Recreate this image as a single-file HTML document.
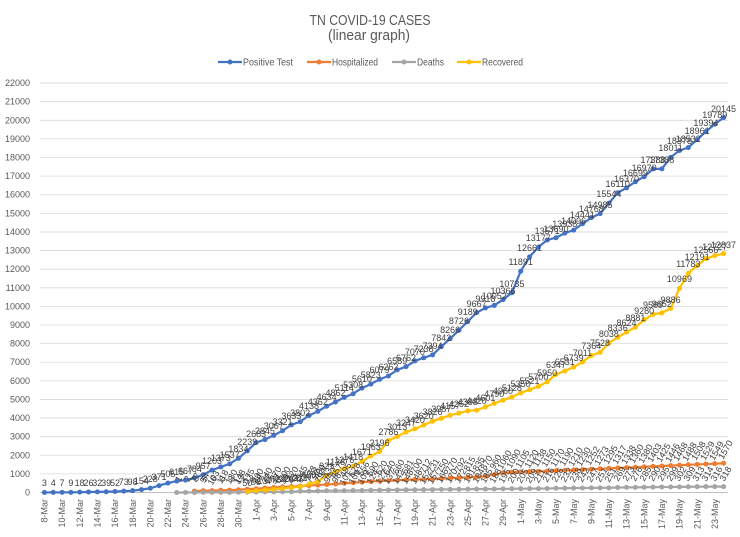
<!DOCTYPE html>
<html><head><meta charset="utf-8"><style>
html,body{margin:0;padding:0;background:#fff}
#c{position:relative;width:740px;height:537px;overflow:hidden;background:#fff;font-family:"Liberation Sans",sans-serif}
svg{position:absolute;left:0;top:0}
#lb i{position:absolute;left:calc(44.4px + 8.82px * var(--i));top:calc(492.5px - 0.01861px * var(--v));font:9px/9px "Liberation Sans",sans-serif;color:#404040;font-style:normal;white-space:nowrap;transform:translate(-50%,-100%);margin-top:-4px}
#lb .r i{transform:translate(-50%,-50%) rotate(-60deg);margin-top:-13px;margin-left:2px}
</style></head><body><div id="c">
<svg width="740" height="537" viewBox="0 0 740 537">
<g fill="#595959" font-family="Liberation Sans, sans-serif">
<text x="370" y="25" font-size="15" text-anchor="middle" textLength="121" lengthAdjust="spacingAndGlyphs">TN COVID-19 CASES</text>
<text x="369" y="40" font-size="15" text-anchor="middle" textLength="82" lengthAdjust="spacingAndGlyphs">(linear graph)</text>
<text x="243" y="65.5" font-size="10" textLength="50" lengthAdjust="spacingAndGlyphs">Positive Test</text>
<text x="332" y="65.5" font-size="10" textLength="46" lengthAdjust="spacingAndGlyphs">Hospitalized</text>
<text x="417" y="65.5" font-size="10" textLength="27" lengthAdjust="spacingAndGlyphs">Deaths</text>
<text x="482" y="65.5" font-size="10" textLength="41" lengthAdjust="spacingAndGlyphs">Recovered</text>
</g>
<g stroke-width="2.2"><line x1="218" y1="62" x2="242" y2="62" stroke="#4472C4"/><circle cx="230" cy="62" r="2.5" fill="#4472C4"/>
<line x1="307" y1="62" x2="331" y2="62" stroke="#ED7D31"/><circle cx="319" cy="62" r="2.5" fill="#ED7D31"/>
<line x1="392" y1="62" x2="416" y2="62" stroke="#A5A5A5"/><circle cx="404" cy="62" r="2.5" fill="#A5A5A5"/>
<line x1="457" y1="62" x2="481" y2="62" stroke="#FFC000"/><circle cx="469" cy="62" r="2.5" fill="#FFC000"/></g>
<g font-size="9" fill="#595959" text-anchor="end" font-family="Liberation Sans, sans-serif">
<text x="30" y="495.5">0</text><text x="30" y="476.9">1000</text><text x="30" y="458.3">2000</text><text x="30" y="439.7">3000</text><text x="30" y="421.1">4000</text><text x="30" y="402.5">5000</text><text x="30" y="383.8">6000</text><text x="30" y="365.2">7000</text><text x="30" y="346.6">8000</text><text x="30" y="328">9000</text><text x="30" y="309.4">10000</text><text x="30" y="290.8">11000</text><text x="30" y="272.2">12000</text><text x="30" y="253.6">13000</text><text x="30" y="235">14000</text><text x="30" y="216.4">15000</text><text x="30" y="197.7">16000</text><text x="30" y="179.1">17000</text><text x="30" y="160.5">18000</text><text x="30" y="141.9">19000</text><text x="30" y="123.3">20000</text><text x="30" y="104.7">21000</text><text x="30" y="86.1">22000</text>
</g>
<g font-size="9" fill="#595959" text-anchor="end" font-family="Liberation Sans, sans-serif">
<text transform="translate(47.6,499) rotate(-90)">8-Mar</text>
<text transform="translate(65.2,499) rotate(-90)">10-Mar</text>
<text transform="translate(82.9,499) rotate(-90)">12-Mar</text>
<text transform="translate(100.5,499) rotate(-90)">14-Mar</text>
<text transform="translate(118.2,499) rotate(-90)">16-Mar</text>
<text transform="translate(135.8,499) rotate(-90)">18-Mar</text>
<text transform="translate(153.4,499) rotate(-90)">20-Mar</text>
<text transform="translate(171.1,499) rotate(-90)">22-Mar</text>
<text transform="translate(188.7,499) rotate(-90)">24-Mar</text>
<text transform="translate(206.4,499) rotate(-90)">26-Mar</text>
<text transform="translate(224,499) rotate(-90)">28-Mar</text>
<text transform="translate(241.6,499) rotate(-90)">30-Mar</text>
<text transform="translate(259.3,499) rotate(-90)">1-Apr</text>
<text transform="translate(276.9,499) rotate(-90)">3-Apr</text>
<text transform="translate(294.6,499) rotate(-90)">5-Apr</text>
<text transform="translate(312.2,499) rotate(-90)">7-Apr</text>
<text transform="translate(329.8,499) rotate(-90)">9-Apr</text>
<text transform="translate(347.5,499) rotate(-90)">11-Apr</text>
<text transform="translate(365.1,499) rotate(-90)">13-Apr</text>
<text transform="translate(382.8,499) rotate(-90)">15-Apr</text>
<text transform="translate(400.4,499) rotate(-90)">17-Apr</text>
<text transform="translate(418,499) rotate(-90)">19-Apr</text>
<text transform="translate(435.7,499) rotate(-90)">21-Apr</text>
<text transform="translate(453.3,499) rotate(-90)">23-Apr</text>
<text transform="translate(471,499) rotate(-90)">25-Apr</text>
<text transform="translate(488.6,499) rotate(-90)">27-Apr</text>
<text transform="translate(506.2,499) rotate(-90)">29-Apr</text>
<text transform="translate(523.9,499) rotate(-90)">1-May</text>
<text transform="translate(541.5,499) rotate(-90)">3-May</text>
<text transform="translate(559.2,499) rotate(-90)">5-May</text>
<text transform="translate(576.8,499) rotate(-90)">7-May</text>
<text transform="translate(594.4,499) rotate(-90)">9-May</text>
<text transform="translate(612.1,499) rotate(-90)">11-May</text>
<text transform="translate(629.7,499) rotate(-90)">13-May</text>
<text transform="translate(647.4,499) rotate(-90)">15-May</text>
<text transform="translate(665,499) rotate(-90)">17-May</text>
<text transform="translate(682.6,499) rotate(-90)">19-May</text>
<text transform="translate(700.3,499) rotate(-90)">21-May</text>
<text transform="translate(717.9,499) rotate(-90)">23-May</text>
</g>
<g transform="matrix(8.82 0 0 -0.01861 44.4 492.5)" fill="none" stroke-linejoin="round">
<path vector-effect="non-scaling-stroke" stroke="#d9d9d9" stroke-width="0.8" d="M-0.5,1000H77.5M-0.5,2000H77.5M-0.5,3000H77.5M-0.5,4000H77.5M-0.5,5000H77.5M-0.5,6000H77.5M-0.5,7000H77.5M-0.5,8000H77.5M-0.5,9000H77.5M-0.5,10000H77.5M-0.5,11000H77.5M-0.5,12000H77.5M-0.5,13000H77.5M-0.5,14000H77.5M-0.5,15000H77.5M-0.5,16000H77.5M-0.5,17000H77.5M-0.5,18000H77.5M-0.5,19000H77.5M-0.5,20000H77.5M-0.5,21000H77.5M-0.5,22000H77.5"/>
<path vector-effect="non-scaling-stroke" stroke="#bfbfbf" stroke-width="1" d="M-0.5,0H77.5"/>
<polyline vector-effect="non-scaling-stroke" stroke="#4472C4" stroke-width="2.2" points="0,3 1,4 2,7 3,9 4,18 5,26 6,32 7,39 8,52 9,73 10,98 11,154 12,228 13,371 14,505 15,615 16,667 17,784 18,957 19,1203 20,1373 21,1537 22,1834 23,2239 24,2683 25,2845 26,3067 27,3321 28,3633 29,3802 30,4138 31,4362 32,4634 33,4862 34,5114 35,5308 36,5610 37,5823 38,6079 39,6262 40,6589 41,6762 42,7070 43,7238 44,7394 45,7842 46,8266 47,8726 48,9189 49,9667 50,9918 51,10052 52,10366 53,10735 54,11891 55,12661 56,13177 57,13571 58,13690 59,13938 60,14096 61,14441 62,14768 63,14985 64,15544 65,16110 66,16370 67,16699 68,16970 69,17388 70,17388 71,18011 72,18378 73,18532 74,18961 75,19394 76,19789 77,20145"/>
<path vector-effect="non-scaling-stroke" stroke="#4472C4" stroke-width="5" stroke-linecap="round" d="M0,3h.01M1,4h.01M2,7h.01M3,9h.01M4,18h.01M5,26h.01M6,32h.01M7,39h.01M8,52h.01M9,73h.01M10,98h.01M11,154h.01M12,228h.01M13,371h.01M14,505h.01M15,615h.01M16,667h.01M17,784h.01M18,957h.01M19,1203h.01M20,1373h.01M21,1537h.01M22,1834h.01M23,2239h.01M24,2683h.01M25,2845h.01M26,3067h.01M27,3321h.01M28,3633h.01M29,3802h.01M30,4138h.01M31,4362h.01M32,4634h.01M33,4862h.01M34,5114h.01M35,5308h.01M36,5610h.01M37,5823h.01M38,6079h.01M39,6262h.01M40,6589h.01M41,6762h.01M42,7070h.01M43,7238h.01M44,7394h.01M45,7842h.01M46,8266h.01M47,8726h.01M48,9189h.01M49,9667h.01M50,9918h.01M51,10052h.01M52,10366h.01M53,10735h.01M54,11891h.01M55,12661h.01M56,13177h.01M57,13571h.01M58,13690h.01M59,13938h.01M60,14096h.01M61,14441h.01M62,14768h.01M63,14985h.01M64,15544h.01M65,16110h.01M66,16370h.01M67,16699h.01M68,16970h.01M69,17388h.01M70,17388h.01M71,18011h.01M72,18378h.01M73,18532h.01M74,18961h.01M75,19394h.01M76,19789h.01M77,20145h.01"/>
<polyline vector-effect="non-scaling-stroke" stroke="#ED7D31" stroke-width="2.2" points="17,77 18,94 19,103 20,118 21,130 22,148 23,175 24,200 25,240 26,270 27,300 28,320 29,345 30,373 31,400 32,433 33,457 34,495 35,528 36,556 37,590 38,620 39,640 40,660 41,681 42,700 43,712 44,731 45,750 46,770 47,792 48,815 49,835 50,870 51,960 52,1060 53,1090 54,1105 55,1120 56,1138 57,1150 58,1170 59,1190 60,1210 61,1230 62,1252 63,1273 64,1295 65,1317 66,1338 67,1360 68,1380 69,1403 70,1425 71,1446 72,1468 73,1488 74,1508 75,1529 76,1549 77,1570"/>
<path vector-effect="non-scaling-stroke" stroke="#ED7D31" stroke-width="5" stroke-linecap="round" d="M17,77h.01M18,94h.01M19,103h.01M20,118h.01M21,130h.01M22,148h.01M23,175h.01M24,200h.01M25,240h.01M26,270h.01M27,300h.01M28,320h.01M29,345h.01M30,373h.01M31,400h.01M32,433h.01M33,457h.01M34,495h.01M35,528h.01M36,556h.01M37,590h.01M38,620h.01M39,640h.01M40,660h.01M41,681h.01M42,700h.01M43,712h.01M44,731h.01M45,750h.01M46,770h.01M47,792h.01M48,815h.01M49,835h.01M50,870h.01M51,960h.01M52,1060h.01M53,1090h.01M54,1105h.01M55,1120h.01M56,1138h.01M57,1150h.01M58,1170h.01M59,1190h.01M60,1210h.01M61,1230h.01M62,1252h.01M63,1273h.01M64,1295h.01M65,1317h.01M66,1338h.01M67,1360h.01M68,1380h.01M69,1403h.01M70,1425h.01M71,1446h.01M72,1468h.01M73,1488h.01M74,1508h.01M75,1529h.01M76,1549h.01M77,1570h.01"/>
<polyline vector-effect="non-scaling-stroke" stroke="#A5A5A5" stroke-width="2.2" points="15,1 16,2 17,3 18,5 19,6 20,6 21,8 22,13 23,23 24,24 25,32 26,37 27,39 28,43 29,65 30,72 31,79 32,94 33,98 34,101 35,109 36,109 37,124 38,127 39,137 40,142 41,148 42,148 43,152 44,157 45,166 46,170 47,172 48,181 49,184 50,185 51,188 52,195 53,200 54,205 55,209 56,211 57,216 58,226 59,232 60,238 61,242 62,247 63,251 64,251 65,269 66,273 67,276 68,285 69,290 70,295 71,299 72,302 73,309 74,313 75,314 76,316 77,318"/>
<path vector-effect="non-scaling-stroke" stroke="#A5A5A5" stroke-width="5" stroke-linecap="round" d="M15,1h.01M16,2h.01M17,3h.01M18,5h.01M19,6h.01M20,6h.01M21,8h.01M22,13h.01M23,23h.01M24,24h.01M25,32h.01M26,37h.01M27,39h.01M28,43h.01M29,65h.01M30,72h.01M31,79h.01M32,94h.01M33,98h.01M34,101h.01M35,109h.01M36,109h.01M37,124h.01M38,127h.01M39,137h.01M40,142h.01M41,148h.01M42,148h.01M43,152h.01M44,157h.01M45,166h.01M46,170h.01M47,172h.01M48,181h.01M49,184h.01M50,185h.01M51,188h.01M52,195h.01M53,200h.01M54,205h.01M55,209h.01M56,211h.01M57,216h.01M58,226h.01M59,232h.01M60,238h.01M61,242h.01M62,247h.01M63,251h.01M64,251h.01M65,269h.01M66,273h.01M67,276h.01M68,285h.01M69,290h.01M70,295h.01M71,299h.01M72,302h.01M73,309h.01M74,313h.01M75,314h.01M76,316h.01M77,318h.01"/>
<polyline vector-effect="non-scaling-stroke" stroke="#FFC000" stroke-width="2.2" points="23,50 24,98 25,137 26,176 27,220 28,264 29,312 30,450 31,592 32,921 33,1138 34,1276 35,1418 36,1671 37,1963 38,2196 39,2786 40,3013 41,3247 42,3420 43,3620 44,3826 45,3987 46,4157 47,4262 48,4388 49,4420 50,4601 51,4790 52,4960 53,5128 54,5350 55,5521 56,5700 57,5950 58,6347 59,6531 60,6739 61,7011 62,7364 63,7528 64,8038 65,8336 66,8624 67,8881 68,9280 69,9569 70,9652 71,9886 72,10969 73,11783 74,12191 75,12566 76,12727 77,12837"/>
<path vector-effect="non-scaling-stroke" stroke="#FFC000" stroke-width="5" stroke-linecap="round" d="M23,50h.01M24,98h.01M25,137h.01M26,176h.01M27,220h.01M28,264h.01M29,312h.01M30,450h.01M31,592h.01M32,921h.01M33,1138h.01M34,1276h.01M35,1418h.01M36,1671h.01M37,1963h.01M38,2196h.01M39,2786h.01M40,3013h.01M41,3247h.01M42,3420h.01M43,3620h.01M44,3826h.01M45,3987h.01M46,4157h.01M47,4262h.01M48,4388h.01M49,4420h.01M50,4601h.01M51,4790h.01M52,4960h.01M53,5128h.01M54,5350h.01M55,5521h.01M56,5700h.01M57,5950h.01M58,6347h.01M59,6531h.01M60,6739h.01M61,7011h.01M62,7364h.01M63,7528h.01M64,8038h.01M65,8336h.01M66,8624h.01M67,8881h.01M68,9280h.01M69,9569h.01M70,9652h.01M71,9886h.01M72,10969h.01M73,11783h.01M74,12191h.01M75,12566h.01M76,12727h.01M77,12837h.01"/>
</g>
</svg>
<div id="lb">
<div>
<i style="--i:0;--v:3">3</i><i style="--i:1;--v:4">4</i><i style="--i:2;--v:7">7</i><i style="--i:3;--v:9">9</i><i style="--i:4;--v:18">18</i><i style="--i:5;--v:26">26</i><i style="--i:6;--v:32">32</i><i style="--i:7;--v:39">39</i><i style="--i:8;--v:52">52</i><i style="--i:9;--v:73">73</i><i style="--i:10;--v:98">98</i><i style="--i:11;--v:154">154</i><i style="--i:12;--v:228">228</i><i style="--i:13;--v:371">371</i><i style="--i:14;--v:505">505</i><i style="--i:15;--v:615">615</i><i style="--i:16;--v:667">667</i><i style="--i:17;--v:784">784</i><i style="--i:18;--v:957">957</i><i style="--i:19;--v:1203">1203</i><i style="--i:20;--v:1373">1373</i><i style="--i:21;--v:1537">1537</i><i style="--i:22;--v:1834">1834</i><i style="--i:23;--v:2239">2239</i><i style="--i:24;--v:2683">2683</i><i style="--i:25;--v:2845">2845</i><i style="--i:26;--v:3067">3067</i><i style="--i:27;--v:3321">3321</i><i style="--i:28;--v:3633">3633</i><i style="--i:29;--v:3802">3802</i><i style="--i:30;--v:4138">4138</i><i style="--i:31;--v:4362">4362</i><i style="--i:32;--v:4634">4634</i><i style="--i:33;--v:4862">4862</i><i style="--i:34;--v:5114">5114</i><i style="--i:35;--v:5308">5308</i><i style="--i:36;--v:5610">5610</i><i style="--i:37;--v:5823">5823</i><i style="--i:38;--v:6079">6079</i><i style="--i:39;--v:6262">6262</i><i style="--i:40;--v:6589">6589</i><i style="--i:41;--v:6762">6762</i><i style="--i:42;--v:7070">7070</i><i style="--i:43;--v:7238">7238</i><i style="--i:44;--v:7394">7394</i><i style="--i:45;--v:7842">7842</i><i style="--i:46;--v:8266">8266</i><i style="--i:47;--v:8726">8726</i><i style="--i:48;--v:9189">9189</i><i style="--i:49;--v:9667">9667</i><i style="--i:50;--v:9918">9918</i><i style="--i:51;--v:10052">10052</i><i style="--i:52;--v:10366">10366</i><i style="--i:53;--v:10735">10735</i><i style="--i:54;--v:11891">11891</i><i style="--i:55;--v:12661">12661</i><i style="--i:56;--v:13177">13177</i><i style="--i:57;--v:13571">13571</i><i style="--i:58;--v:13690">13690</i><i style="--i:59;--v:13938">13938</i><i style="--i:60;--v:14096">14096</i><i style="--i:61;--v:14441">14441</i><i style="--i:62;--v:14768">14768</i><i style="--i:63;--v:14985">14985</i><i style="--i:64;--v:15544">15544</i><i style="--i:65;--v:16110">16110</i><i style="--i:66;--v:16370">16370</i><i style="--i:67;--v:16699">16699</i><i style="--i:68;--v:16970">16970</i><i style="--i:69;--v:17388">17388</i><i style="--i:70;--v:17388">17388</i><i style="--i:71;--v:18011">18011</i><i style="--i:72;--v:18378">18378</i><i style="--i:73;--v:18532">18532</i><i style="--i:74;--v:18961">18961</i><i style="--i:75;--v:19394">19394</i><i style="--i:76;--v:19789">19789</i><i style="--i:77;--v:20145">20145</i>
</div>
<div class="r">
<i style="--i:17;--v:77">77</i><i style="--i:18;--v:94">94</i><i style="--i:19;--v:103">103</i><i style="--i:20;--v:118">118</i><i style="--i:21;--v:130">130</i><i style="--i:22;--v:148">148</i><i style="--i:23;--v:175">175</i><i style="--i:24;--v:200">200</i><i style="--i:25;--v:240">240</i><i style="--i:26;--v:270">270</i><i style="--i:27;--v:300">300</i><i style="--i:28;--v:320">320</i><i style="--i:29;--v:345">345</i><i style="--i:30;--v:373">373</i><i style="--i:31;--v:400">400</i><i style="--i:32;--v:433">433</i><i style="--i:33;--v:457">457</i><i style="--i:34;--v:495">495</i><i style="--i:35;--v:528">528</i><i style="--i:36;--v:556">556</i><i style="--i:37;--v:590">590</i><i style="--i:38;--v:620">620</i><i style="--i:39;--v:640">640</i><i style="--i:40;--v:660">660</i><i style="--i:41;--v:681">681</i><i style="--i:42;--v:700">700</i><i style="--i:43;--v:712">712</i><i style="--i:44;--v:731">731</i><i style="--i:45;--v:750">750</i><i style="--i:46;--v:770">770</i><i style="--i:47;--v:792">792</i><i style="--i:48;--v:815">815</i><i style="--i:49;--v:835">835</i><i style="--i:50;--v:870">870</i><i style="--i:51;--v:960">960</i><i style="--i:52;--v:1060">1060</i><i style="--i:53;--v:1090">1090</i><i style="--i:54;--v:1105">1105</i><i style="--i:55;--v:1120">1120</i><i style="--i:56;--v:1138">1138</i><i style="--i:57;--v:1150">1150</i><i style="--i:58;--v:1170">1170</i><i style="--i:59;--v:1190">1190</i><i style="--i:60;--v:1210">1210</i><i style="--i:61;--v:1230">1230</i><i style="--i:62;--v:1252">1252</i><i style="--i:63;--v:1273">1273</i><i style="--i:64;--v:1295">1295</i><i style="--i:65;--v:1317">1317</i><i style="--i:66;--v:1338">1338</i><i style="--i:67;--v:1360">1360</i><i style="--i:68;--v:1380">1380</i><i style="--i:69;--v:1403">1403</i><i style="--i:70;--v:1425">1425</i><i style="--i:71;--v:1446">1446</i><i style="--i:72;--v:1468">1468</i><i style="--i:73;--v:1488">1488</i><i style="--i:74;--v:1508">1508</i><i style="--i:75;--v:1529">1529</i><i style="--i:76;--v:1549">1549</i><i style="--i:77;--v:1570">1570</i>
<i style="--i:15;--v:1">1</i><i style="--i:16;--v:2">2</i><i style="--i:17;--v:3">3</i><i style="--i:18;--v:5">5</i><i style="--i:19;--v:6">6</i><i style="--i:20;--v:6">6</i><i style="--i:21;--v:8">8</i><i style="--i:22;--v:13">13</i><i style="--i:23;--v:23">23</i><i style="--i:24;--v:24">24</i><i style="--i:25;--v:32">32</i><i style="--i:26;--v:37">37</i><i style="--i:27;--v:39">39</i><i style="--i:28;--v:43">43</i><i style="--i:29;--v:65">65</i><i style="--i:30;--v:72">72</i><i style="--i:31;--v:79">79</i><i style="--i:32;--v:94">94</i><i style="--i:33;--v:98">98</i><i style="--i:34;--v:101">101</i><i style="--i:35;--v:109">109</i><i style="--i:36;--v:109">109</i><i style="--i:37;--v:124">124</i><i style="--i:38;--v:127">127</i><i style="--i:39;--v:137">137</i><i style="--i:40;--v:142">142</i><i style="--i:41;--v:148">148</i><i style="--i:42;--v:148">148</i><i style="--i:43;--v:152">152</i><i style="--i:44;--v:157">157</i><i style="--i:45;--v:166">166</i><i style="--i:46;--v:170">170</i><i style="--i:47;--v:172">172</i><i style="--i:48;--v:181">181</i><i style="--i:49;--v:184">184</i><i style="--i:50;--v:185">185</i><i style="--i:51;--v:188">188</i><i style="--i:52;--v:195">195</i><i style="--i:53;--v:200">200</i><i style="--i:54;--v:205">205</i><i style="--i:55;--v:209">209</i><i style="--i:56;--v:211">211</i><i style="--i:57;--v:216">216</i><i style="--i:58;--v:226">226</i><i style="--i:59;--v:232">232</i><i style="--i:60;--v:238">238</i><i style="--i:61;--v:242">242</i><i style="--i:62;--v:247">247</i><i style="--i:63;--v:251">251</i><i style="--i:64;--v:251">251</i><i style="--i:65;--v:269">269</i><i style="--i:66;--v:273">273</i><i style="--i:67;--v:276">276</i><i style="--i:68;--v:285">285</i><i style="--i:69;--v:290">290</i><i style="--i:70;--v:295">295</i><i style="--i:71;--v:299">299</i><i style="--i:72;--v:302">302</i><i style="--i:73;--v:309">309</i><i style="--i:74;--v:313">313</i><i style="--i:75;--v:314">314</i><i style="--i:76;--v:316">316</i><i style="--i:77;--v:318">318</i>
</div>
<div>
<i style="--i:23;--v:50">50</i><i style="--i:24;--v:98">98</i><i style="--i:25;--v:137">137</i><i style="--i:26;--v:176">176</i><i style="--i:27;--v:220">220</i><i style="--i:28;--v:264">264</i><i style="--i:29;--v:312">312</i><i style="--i:30;--v:450">450</i><i style="--i:31;--v:592">592</i><i style="--i:32;--v:921">921</i><i style="--i:33;--v:1138">1138</i><i style="--i:34;--v:1276">1276</i><i style="--i:35;--v:1418">1418</i><i style="--i:36;--v:1671">1671</i><i style="--i:37;--v:1963">1963</i><i style="--i:38;--v:2196">2196</i><i style="--i:39;--v:2786">2786</i><i style="--i:40;--v:3013">3013</i><i style="--i:41;--v:3247">3247</i><i style="--i:42;--v:3420">3420</i><i style="--i:43;--v:3620">3620</i><i style="--i:44;--v:3826">3826</i><i style="--i:45;--v:3987">3987</i><i style="--i:46;--v:4157">4157</i><i style="--i:47;--v:4262">4262</i><i style="--i:48;--v:4388">4388</i><i style="--i:49;--v:4420">4420</i><i style="--i:50;--v:4601">4601</i><i style="--i:51;--v:4790">4790</i><i style="--i:52;--v:4960">4960</i><i style="--i:53;--v:5128">5128</i><i style="--i:54;--v:5350">5350</i><i style="--i:55;--v:5521">5521</i><i style="--i:56;--v:5700">5700</i><i style="--i:57;--v:5950">5950</i><i style="--i:58;--v:6347">6347</i><i style="--i:59;--v:6531">6531</i><i style="--i:60;--v:6739">6739</i><i style="--i:61;--v:7011">7011</i><i style="--i:62;--v:7364">7364</i><i style="--i:63;--v:7528">7528</i><i style="--i:64;--v:8038">8038</i><i style="--i:65;--v:8336">8336</i><i style="--i:66;--v:8624">8624</i><i style="--i:67;--v:8881">8881</i><i style="--i:68;--v:9280">9280</i><i style="--i:69;--v:9569">9569</i><i style="--i:70;--v:9652">9652</i><i style="--i:71;--v:9886">9886</i><i style="--i:72;--v:10969">10969</i><i style="--i:73;--v:11783">11783</i><i style="--i:74;--v:12191">12191</i><i style="--i:75;--v:12566">12566</i><i style="--i:76;--v:12727">12727</i><i style="--i:77;--v:12837">12837</i>
</div>
</div>
</div></body></html>
